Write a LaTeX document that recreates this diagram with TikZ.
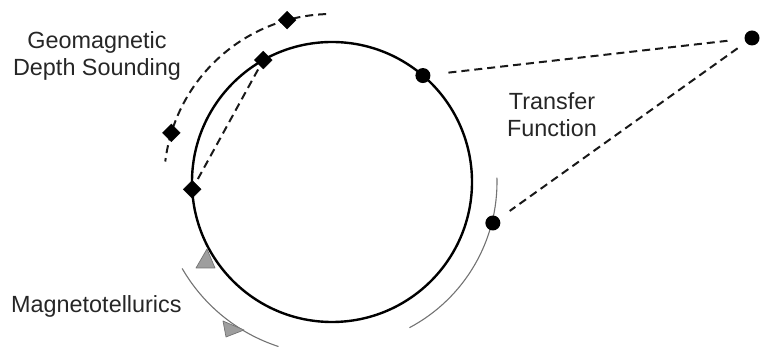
\documentclass[tikz,border=0pt]{standalone}
\usepackage{fontspec}
\setmainfont{Liberation Sans}
\usetikzlibrary{shapes.geometric}
\begin{document}
\begin{tikzpicture}[x=1pt,y=1pt,
  lbl/.style={inner sep=0pt, text=black!85, font=\fontsize{23.4}{27}\selectfont, align=center},
  diam/.style={diamond, fill=black, draw=black, inner sep=0pt, minimum size=18pt},
  dot/.style={circle, fill=black, inner sep=0pt, minimum size=15pt},
  dline/.style={dashed, line width=2pt, dash pattern=on 8pt off 5pt, black!90},
  thinarc/.style={line width=1.1pt, black!55},
  tri/.style={fill=black!38, draw=black!55, line width=0.7pt, line join=round}
]
\useasboundingbox (0,0) rectangle (761,347);
\coordinate (C) at (332,165);
% main circle
\draw[line width=2.4pt] (C) circle[radius=140];
% outer GDS dashed arc
\draw[dline] ([shift={(92:168)}]C) arc[start angle=92, end angle=173, radius=168];
% right thin arc
\draw[thinarc] ([shift={(1.5:165)}]C) arc[start angle=1.5, end angle=-62, radius=165];
% bottom-left thin arc
\draw[thinarc] ([shift={(210:173)}]C) arc[start angle=210, end angle=252, radius=173];
% triangles
\draw[tri] (196,79) -- (215,79) -- (207,98) -- cycle;
\draw[tri] (223,26) -- (226,10) -- (244,17) -- cycle;
% nodes
\node[diam] (a) at ([shift={(119.4:140)}]C) {};
\node[diam] (b) at ([shift={(183:140)}]C) {};
\node[diam] (c) at ([shift={(105.5:168)}]C) {};
\node[diam] (d) at ([shift={(163:168)}]C) {};
\node[dot] (p) at ([shift={(49.5:140)}]C) {};
\node[dot] (q) at ([shift={(-14.3:166)}]C) {};
\node[dot] (r) at (752,309) {};
% dashed connectors
\draw[dline, shorten <=4pt, shorten >=3pt] (a) -- (b);
\draw[dline, shorten <=18pt, shorten >=17pt] (p) -- (r);
\draw[dline, shorten <=10pt, shorten >=13pt] (r) -- (q);
% labels
\node[lbl] (gds) at (97,291.5) {Geomagnetic\\Depth Sounding};
\node[lbl] (tf) at (552,232) {Transfer\\Function};
\node[lbl, anchor=base west] (mt) at (11,34) {Magnetotellurics};
\end{tikzpicture}
\end{document}
